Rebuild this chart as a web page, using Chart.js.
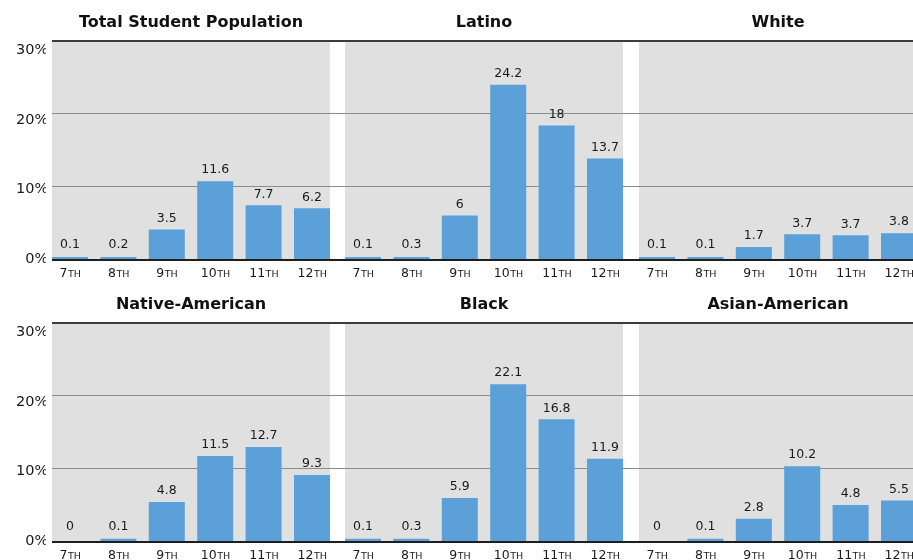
<!DOCTYPE html>
<html>
<head>
<meta charset="utf-8">
<title>Students by grade</title>
<script src="https://cdn.jsdelivr.net/npm/chart.js@4.4.1/dist/chart.umd.min.js"></script>
<style>
    body { margin: 0; background: #fff; overflow: hidden; width: 913px; height: 560px; position: relative; }
    canvas { position: absolute; }
</style>
</head>
<body>
<canvas id="c0" width="338" height="280" style="left:0px;top:0px"></canvas>
<canvas id="c1" width="294" height="280" style="left:338px;top:0px"></canvas>
<canvas id="c2" width="292" height="280" style="left:632px;top:0px"></canvas>
<canvas id="c3" width="338" height="280" style="left:0px;top:282px"></canvas>
<canvas id="c4" width="294" height="280" style="left:338px;top:282px"></canvas>
<canvas id="c5" width="292" height="280" style="left:632px;top:282px"></canvas>
<script>
// grades on the x axis, the "TH" is drawn smaller
var grades = ["7", "8", "9", "10", "11", "12"];
var gradeSuffix = "TH";
var yTicks = [0, 10, 20, 30];

var titles = ["Total Student Population", "Latino", "White", "Native-American", "Black", "Asian-American"];

// bar heights as drawn (percent) and the numbers printed over them
var totalBars = [0.35, 0.35, 4.1, 10.7, 7.4, 7.0];
var totalLabels = ["0.1", "0.2", "3.5", "11.6", "7.7", "6.2"];
var latinoBars = [0.35, 0.35, 6.0, 23.9, 18.3, 13.8];
var latinoLabels = ["0.1", "0.3", "6", "24.2", "18", "13.7"];
var whiteBars = [0.35, 0.35, 1.7, 3.45, 3.3, 3.6];
var whiteLabels = ["0.1", "0.1", "1.7", "3.7", "3.7", "3.8"];
var nativeBars = [0, 0.37, 5.4, 11.7, 12.9, 9.1];
var nativeLabels = ["0", "0.1", "4.8", "11.5", "12.7", "9.3"];
var blackBars = [0.37, 0.37, 5.95, 21.5, 16.7, 11.3];
var blackLabels = ["0.1", "0.3", "5.9", "22.1", "16.8", "11.9"];
var asianBars = [0, 0.37, 3.1, 10.3, 5.0, 5.6];
var asianLabels = ["0", "0.1", "2.8", "10.2", "4.8", "5.5"];

var FONT = "'DejaVu Sans', 'Liberation Sans', sans-serif";

// gray panel, grid lines, value labels, grade labels and title
var panelPlugin = {
    id: 'panel',
    beforeDatasetsDraw: function (chart, args, opts) {
        var ctx = chart.ctx;
        var y = chart.scales.y;
        var bars = chart.getDatasetMeta(0).data;
        var left = bars[0].x - bars[0].width / 2;
        var right = bars[bars.length - 1].x + bars[bars.length - 1].width / 2;
        var top = y.getPixelForValue(30);
        var zero = y.getPixelForValue(0);
        ctx.save();
        ctx.fillStyle = '#e0e0e0';
        ctx.fillRect(left, top, right - left, zero - top);
        var start = opts.first ? left : 0;
        yTicks.forEach(function (v) {
            if (v == 0) return;
            var py = Math.round(y.getPixelForValue(v));
            if (v == 30) {
                ctx.fillStyle = '#3c3c3c';
                ctx.fillRect(start, py, chart.width - start, 2);
            } else {
                ctx.fillStyle = '#8c8c8c';
                ctx.fillRect(start, py, chart.width - start, 1);
            }
        });
        ctx.restore();
    },
    afterDatasetsDraw: function (chart, args, opts) {
        var ctx = chart.ctx;
        var y = chart.scales.y;
        var bars = chart.getDatasetMeta(0).data;
        var left = bars[0].x - bars[0].width / 2;
        var zero = y.getPixelForValue(0);
        var start = opts.first ? left : 0;
        ctx.save();
        // axis
        ctx.fillStyle = '#1e1e1e';
        ctx.fillRect(start, Math.round(zero) - 1, chart.width - start, 2);

        ctx.fillStyle = '#1a1a1a';
        ctx.textAlign = 'center';
        ctx.textBaseline = 'middle';
        ctx.font = '12.5px ' + FONT;
        bars.forEach(function (b, i) {
            ctx.fillText(opts.labels[i], b.x, Math.min(b.y, zero - 4) - 11);
        });

        // grade labels: "10" + small "TH"
        ctx.textAlign = 'left';
        ctx.textBaseline = 'alphabetic';
        bars.forEach(function (b, i) {
            ctx.font = '12.5px ' + FONT;
            var w1 = ctx.measureText(grades[i]).width;
            ctx.font = '9.5px ' + FONT;
            var w2 = ctx.measureText(gradeSuffix).width;
            var x0 = b.x - (w1 + w2) / 2;
            ctx.font = '12.5px ' + FONT;
            ctx.fillText(grades[i], x0, zero + 17.5);
            ctx.font = '9.5px ' + FONT;
            ctx.fillText(gradeSuffix, x0 + w1 + 0.5, zero + 17.5);
        });

        ctx.textAlign = 'center';
        ctx.font = 'bold 16px ' + FONT;
        ctx.fillStyle = '#111';
        ctx.fillText(opts.title, (chart.chartArea.left + chart.chartArea.right) / 2, 26.5);
        ctx.restore();
    }
};

function makePanel(id, title, bars, labels, first, padLeft, padRight) {
    var ctx = document.getElementById(id).getContext('2d');
    return new Chart(ctx, {
        type: 'bar',
        data: {
            labels: grades,
            datasets: [{
                data: bars,
                backgroundColor: '#5ba0d9',
                borderWidth: 0,
                categoryPercentage: 1,
                barPercentage: 0.744
            }]
        },
        options: {
            responsive: false,
            animation: false,
            events: [],
            layout: { padding: { top: 40, bottom: 20.5, left: padLeft, right: padRight } },
            plugins: {
                legend: { display: false },
                tooltip: { enabled: false },
                panel: { first: first, title: title, labels: labels }
            },
            scales: {
                x: { display: false, offset: true },
                y: {
                    display: false,
                    min: 0,
                    max: 30,
                    afterFit: function (s) { s.width = 0; }
                },
                // the % labels in the original sit a little lower than their lines,
                // a slightly longer scale puts them there
                yl: {
                    display: first,
                    position: 'left',
                    min: 0,
                    max: 31.45,
                    afterBuildTicks: function (s) {
                        s.ticks = yTicks.map(function (v) { return { value: v }; });
                    },
                    afterFit: function (s) { s.width = first ? 45.8 : 0; },
                    grid: { display: false, drawTicks: false },
                    border: { display: false },
                    ticks: {
                        padding: -2.5,
                        color: '#1a1a1a',
                        font: { family: FONT, size: 14.5 },
                        callback: function (v) { return v + '%'; }
                    }
                }
            }
        },
        plugins: [panelPlugin]
    });
}

makePanel('c0', titles[0], totalBars, totalLabels, true, 0, 1.8);
makePanel('c1', titles[1], latinoBars, latinoLabels, false, 0.8, 2.8);
makePanel('c2', titles[2], whiteBars, whiteLabels, false, 0.8, 0.8);
makePanel('c3', titles[3], nativeBars, nativeLabels, true, 0, 1.8);
makePanel('c4', titles[4], blackBars, blackLabels, false, 0.8, 2.8);
makePanel('c5', titles[5], asianBars, asianLabels, false, 0.8, 0.8);
</script>
</body>
</html>
